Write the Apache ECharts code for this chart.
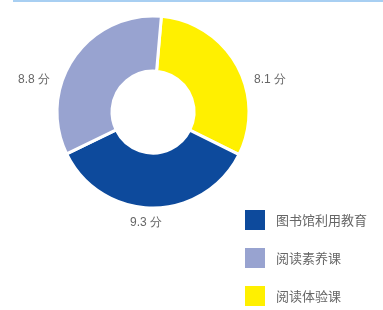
<!DOCTYPE html>
<html>
<head>
<meta charset="utf-8">
<script src="https://cdn.jsdelivr.net/npm/echarts@6/dist/echarts.min.js"></script>
<style>
  html, body { margin: 0; padding: 0; background: #fff; }
  #chart { width: 383px; height: 310px; }
</style>
</head>
<body>
<div id="chart"></div>
<script>
// 数据
var names = ['阅读体验课', '图书馆利用教育', '阅读素养课'];
var scores = [8.1, 9.3, 8.8];
var colors = ['#fff000', '#0d4a9c', '#98a3d0'];
var legendOrder = ['图书馆利用教育', '阅读素养课', '阅读体验课'];

// 标签位置
var labelPos = [[270, 80], [146, 223], [34, 80]];

var pieData = [];
for (var i = 0; i < names.length; i++) {
    pieData.push({ name: names[i], value: scores[i], itemStyle: { color: colors[i] } });
}

var dom = echarts.init(document.getElementById('chart'));

var option = {
    backgroundColor: '#fff',
    animation: false,
    graphic: [{
        type: 'rect',
        shape: { x: 13, y: 0, width: 370, height: 2 },
        style: { fill: '#a8cff2' }
    }],
    legend: {
        data: legendOrder,
        orient: 'vertical',
        left: 243,
        top: 208,
        itemWidth: 22,
        itemHeight: 22,
        itemGap: 14,
        icon: 'rect',
        padding: 0,
        textStyle: {
            color: '#666',
            fontSize: 13,
            fontFamily: 'Noto Sans CJK SC',
            padding: [0, 0, 0, 5]
        }
    },
    series: [{
        type: 'pie',
        center: [153, 112],
        radius: [41, 96],
        startAngle: 85,
        clockwise: true,
        silent: true,
        itemStyle: {
            borderColor: '#fff',
            borderWidth: 3
        },
        label: {
            show: true,
            position: 'outside',
            alignTo: 'none',
            overflow: 'none',
            formatter: function (p) { return p.value + ' 分'; },
            color: '#666',
            fontSize: 12,
            fontFamily: 'Liberation Sans'
        },
        labelLine: { show: false },
        labelLayout: function (p) {
            return { x: labelPos[p.dataIndex][0], y: labelPos[p.dataIndex][1], align: 'center', verticalAlign: 'middle' };
        },
        data: pieData
    }]
};

dom.setOption(option);
</script>
</body>
</html>
